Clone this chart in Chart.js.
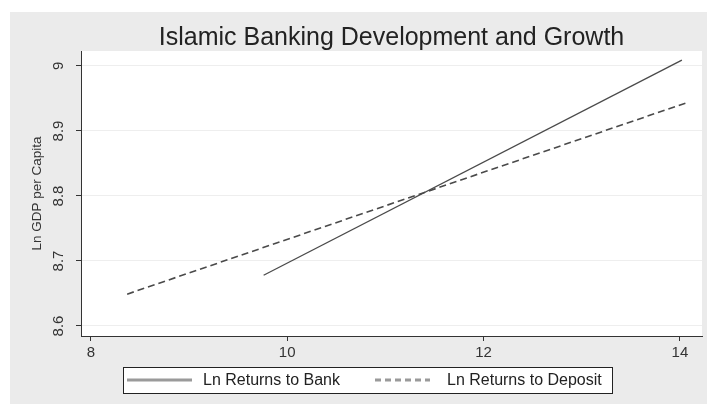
<!DOCTYPE html>
<html><head><meta charset="utf-8">
<script src="https://cdn.jsdelivr.net/npm/chart.js@4/dist/chart.umd.min.js"></script>
<style>html,body{margin:0;padding:0;background:#fff;} canvas{display:block;}</style>
</head><body>
<canvas id="c" width="707" height="404"></canvas>
<script>
const chartTitle = 'Islamic Banking Development and Growth';
const yAxisTitle = 'Ln GDP per Capita';
const seriesNames = ['Ln Returns to Bank', 'Ln Returns to Deposit'];
const bankX = [9.76, 14.02];
const bankY = [8.678, 9.009];
const depositX = [8.37, 14.08];
const depositY = [8.649, 8.944];
const xTicks = [8, 10, 12, 14];
const xTickLabels = ['8', '10', '12', '14'];
const yTicks = [8.6, 8.7, 8.8, 8.9, 9];
const yTickLabels = ['8.6', '8.7', '8.8', '8.9', '9'];

const FONT = "'Liberation Sans', Arial, sans-serif";
Chart.defaults.font.family = FONT;

const bgPlugin = {
  id: 'bg',
  beforeDraw(chart) {
    const ctx = chart.ctx, a = chart.chartArea;
    ctx.save();
    ctx.fillStyle = '#ffffff';
    ctx.fillRect(0, 0, chart.width, chart.height);
    ctx.fillStyle = '#ebebeb';
    ctx.fillRect(10, 12, chart.width - 10, chart.height - 12);
    ctx.fillStyle = '#ffffff';
    ctx.fillRect(a.left, a.top, a.right - a.left, a.bottom - a.top);
    ctx.restore();
  }
};

const legendBoxPlugin = {
  id: 'legendBox',
  afterDraw(chart) {
    const ctx = chart.ctx;
    const ds = chart.data.datasets;
    const cy = 380;
    ctx.save();
    ctx.fillStyle = '#ffffff';
    ctx.fillRect(123, 367, 489, 26);
    ctx.strokeStyle = '#222';
    ctx.lineWidth = 1;
    ctx.strokeRect(123.5, 367.5, 489, 26);
    const items = [
      {x0: 127, x1: 192, tx: 203, dash: []},
      {x0: 375, x1: 430, tx: 447, dash: [6, 4]}
    ];
    items.forEach((it, i) => {
      ctx.beginPath();
      ctx.setLineDash(it.dash);
      ctx.strokeStyle = '#9a9a9a';
      ctx.lineWidth = 3;
      ctx.moveTo(it.x0, cy);
      ctx.lineTo(it.x1, cy);
      ctx.stroke();
      ctx.setLineDash([]);
      ctx.fillStyle = '#222';
      ctx.font = '16px ' + FONT;
      ctx.textAlign = 'left';
      ctx.textBaseline = 'middle';
      ctx.fillText(ds[i].label, it.tx, cy + 1);
    });
    ctx.restore();
  }
};

new Chart(document.getElementById('c'), {
  type: 'scatter',
  data: {
    datasets: [
      {
        label: seriesNames[0],
        data: bankX.map((x, i) => ({x: x, y: bankY[i]})),
        showLine: true,
        borderColor: '#4a4a4a',
        borderWidth: 1.3,
        pointRadius: 0,
        fill: false
      },
      {
        label: seriesNames[1],
        data: depositX.map((x, i) => ({x: x, y: depositY[i]})),
        showLine: true,
        borderColor: '#4a4a4a',
        borderWidth: 1.6,
        borderDash: [7, 4],
        pointRadius: 0,
        fill: false
      }
    ]
  },
  options: {
    responsive: false,
    animation: false,
    devicePixelRatio: 1,
    layout: {padding: {left: 10, right: 5, top: 26, bottom: 38}},
    plugins: {
      legend: {display: false},
      tooltip: {enabled: false},
      title: {
        display: true,
        fullSize: false,
        text: chartTitle,
        color: '#222',
        font: {size: 25, weight: 'normal', lineHeight: 1},
        padding: 0
      }
    },
    scales: {
      x: {
        type: 'linear',
        min: 7.9,
        max: 14.225,
        afterBuildTicks: s => { s.ticks = xTicks.map(v => ({value: v})); },
        afterFit: s => { s.height = 30; },
        ticks: {
          callback: (v, i) => xTickLabels[i],
          color: '#333',
          font: {size: 15},
          padding: 3,
          maxRotation: 0,
          autoSkip: false
        },
        grid: {drawOnChartArea: false, tickLength: 5, tickColor: '#333'},
        border: {color: '#333', width: 1}
      },
      y: {
        type: 'linear',
        min: 8.5846,
        max: 9.023,
        afterBuildTicks: s => { s.ticks = yTicks.map(v => ({value: v})); },
        afterFit: s => { s.width = 71; },
        ticks: {
          callback: (v, i) => yTickLabels[i],
          color: '#333',
          font: {size: 15},
          minRotation: 90,
          maxRotation: 90,
          crossAlign: 'center',
          padding: 7,
          autoSkip: false
        },
        grid: {color: '#eeeeee', tickLength: 5, tickColor: '#333'},
        border: {color: '#333', width: 1},
        title: {
          display: true,
          text: yAxisTitle,
          color: '#333',
          font: {size: 13.5},
          padding: {top: 19, bottom: 0}
        }
      }
    }
  },
  plugins: [bgPlugin, legendBoxPlugin]
});
</script>
</body></html>
